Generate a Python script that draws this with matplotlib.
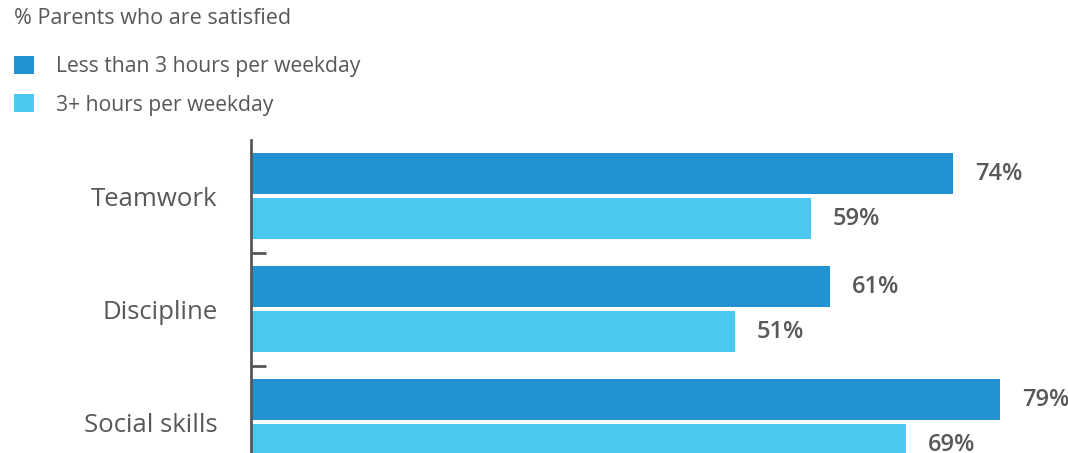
import matplotlib.pyplot as plt
import numpy as np

# data
categories = ["Teamwork", "Discipline", "Social skills"]
less_than_3 = [74, 61, 79]
three_plus = [59, 51, 69]
series_names = ["Less than 3 hours per weekday", "3+ hours per weekday"]

dark = "#2392D0"
light = "#4BC8F0"
grey = "#58585a"

plt.rcParams['font.family'] = ['Open Sans', 'DejaVu Sans']

fig = plt.figure(figsize=(10.68, 4.53), dpi=100)
ax = fig.add_axes([251 / 1068, 0, (1068 - 251) / 1068, 313 / 453])

y = np.arange(len(categories))
h = 41 / 113
off = 22.5 / 113
b1 = ax.barh(y - off, less_than_3, height=h, color=dark, label=series_names[0])
b2 = ax.barh(y + off, three_plus, height=h, color=light, label=series_names[1])

for bars in (b1, b2):
    for rect in bars:
        w = rect.get_width()
        ax.annotate(f"{w:.0f}%", (w, rect.get_y() + rect.get_height() / 2),
                    xytext=(16, 0), textcoords="offset points",
                    ha="left", va="center", fontsize=17, fontweight="semibold",
                    color=grey)

ax.set_xlim(0, 817 / 9.486)
ax.set_ylim(2.274, -0.496)

for s in ["top", "right", "bottom"]:
    ax.spines[s].set_visible(False)
ax.spines["left"].set_color(grey)
ax.spines["left"].set_linewidth(2)
ax.set_xticks([])

ax.set_yticks(y)
ax.set_yticklabels(categories, fontsize=18.5, color=grey)
ax.tick_params(axis="y", which="major", length=0, pad=24)
ax.set_yticks([0.5, 1.5], minor=True)
ax.tick_params(axis="y", which="minor", direction="in", length=11,
               width=2, color=grey)

fig.text(14 / 1068, 1 - 19 / 453, "% Parents who are satisfied",
         fontsize=15.5, color=grey, ha="left", va="center")

fig.legend(handles=[b1, b2], loc="upper left",
           bbox_to_anchor=(14 / 1068, 1 - 56 / 453), frameon=False,
           borderpad=0, borderaxespad=0,
           fontsize=15.2, labelcolor=grey, handlelength=0.95, handleheight=0.95,
           handletextpad=1.05, labelspacing=0.8)

fig.savefig("out.png", dpi=100)
